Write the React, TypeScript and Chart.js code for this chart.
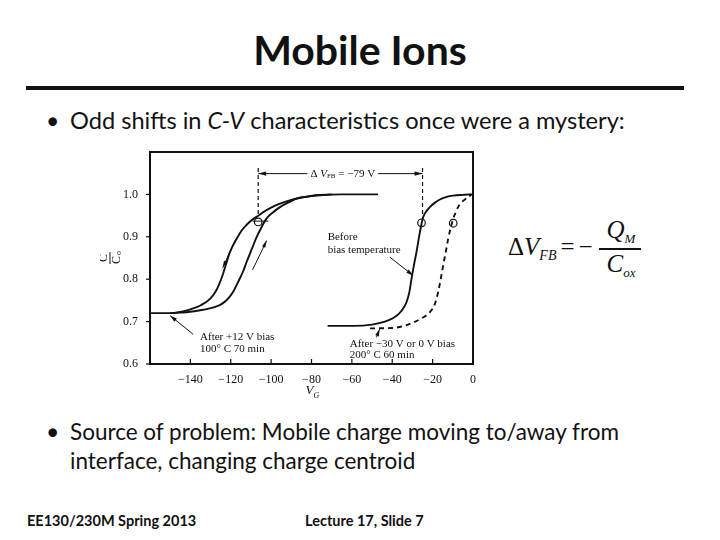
import React, { useEffect, useRef } from "react";
import { Chart, registerables } from "chart.js";

Chart.register(...registerables);

// ---- data ----
const xTicks = [-140, -120, -100, -80, -60, -40, -20, 0];
const yTicks = [0.6, 0.7, 0.8, 0.9, 1.0];

const downV = [-160, -150, -145, -140, -135, -130, -127, -124, -120.4, -117, -114.6, -112, -109.7, -106, -104, -100, -95.6, -90, -85.7, -80, -75.8, -65, -47];
const downC = [0.72, 0.72, 0.723, 0.729, 0.738, 0.755, 0.775, 0.81, 0.864, 0.896, 0.915, 0.929, 0.939, 0.951, 0.958, 0.969, 0.978, 0.987, 0.992, 0.996, 0.998, 1.0, 1.0];

const upV = [-150, -142, -133.6, -128, -124, -121, -118.5, -116, -114, -112.2, -109.5, -107.2, -104.5, -102.3, -99, -95.6, -91, -87.4, -82, -78, -70];
const upC = [0.72, 0.722, 0.728, 0.734, 0.743, 0.756, 0.773, 0.797, 0.817, 0.84, 0.872, 0.899, 0.925, 0.943, 0.958, 0.97, 0.982, 0.99, 0.995, 0.998, 1.0];

const beforeV = [-72, -59, -50, -46, -42, -38, -35.5, -33, -31.5, -30.5, -29.3, -28, -26.3, -24.7, -23, -21.4, -19, -16.4, -13, -9.8, -5, -1.6, 0];
const beforeC = [0.69, 0.69, 0.693, 0.697, 0.703, 0.713, 0.725, 0.745, 0.77, 0.8, 0.832, 0.864, 0.911, 0.946, 0.961, 0.97, 0.98, 0.988, 0.994, 0.997, 0.999, 1.0, 1.0];

const afterV = [-51, -40, -34, -29.6, -25, -21.4, -19, -17.3, -16, -14.8, -13.5, -12.3, -11, -9.8, -8.5, -7.4, -5.5, -3.2, -0.7];
const afterC = [0.684, 0.685, 0.69, 0.698, 0.709, 0.722, 0.74, 0.769, 0.8, 0.832, 0.864, 0.895, 0.922, 0.943, 0.958, 0.97, 0.982, 0.991, 1.0];

const markV = [-106.4, -25.5, -9.8];
const markC = [0.935, 0.933, 0.932];

const deltaLeftV = -106.4;
const deltaRightV = -25;
const deltaLevel = 1.049;
const deltaLabel = "= \u221279 V";

const toPts = (xs: number[], ys: number[]) => xs.map((x, i) => ({ x, y: ys[i] }));

const SERIF = '"Liberation Serif", "DejaVu Serif", serif';

function arrowHead(ctx: CanvasRenderingContext2D, x0: number, y0: number, x1: number, y1: number, size: number, width: number) {
  const a = Math.atan2(y1 - y0, x1 - x0);
  ctx.beginPath();
  ctx.moveTo(x1, y1);
  ctx.lineTo(x1 - size * Math.cos(a) + width * Math.sin(a), y1 - size * Math.sin(a) - width * Math.cos(a));
  ctx.lineTo(x1 - size * Math.cos(a) - width * Math.sin(a), y1 - size * Math.sin(a) + width * Math.cos(a));
  ctx.closePath();
  ctx.fill();
}

const figurePlugin = {
  id: "figure",
  afterDatasetsDraw(chart: any) {
    const { ctx, chartArea: a, scales } = chart;
    const X = (v: number) => scales.x.getPixelForValue(v);
    const Y = (v: number) => scales.y.getPixelForValue(v);
    ctx.save();
    ctx.strokeStyle = "#111";
    ctx.fillStyle = "#111";
    // frame
    ctx.lineWidth = 2;
    ctx.strokeRect(a.left, a.top, a.right - a.left, a.bottom - a.top);
    // x ticks (inside)
    ctx.lineWidth = 1.2;
    xTicks.forEach((v) => {
      ctx.beginPath();
      ctx.moveTo(X(v), a.bottom);
      ctx.lineTo(X(v), a.bottom - 5);
      ctx.stroke();
    });
    // y ticks (outside)
    yTicks.forEach((v) => {
      ctx.beginPath();
      ctx.moveTo(a.left, Y(v));
      ctx.lineTo(a.left - 4, Y(v));
      ctx.stroke();
    });

    // dashed verticals
    ctx.setLineDash([4, 3]);
    ctx.lineWidth = 1.2;
    ctx.beginPath();
    ctx.moveTo(X(deltaLeftV), Y(1.062));
    ctx.lineTo(X(deltaLeftV), Y(0.95));
    ctx.moveTo(X(deltaRightV), Y(1.062));
    ctx.lineTo(X(deltaRightV), Y(0.945));
    ctx.stroke();
    ctx.setLineDash([]);

    // delta dimension line
    const yl = Y(deltaLevel);
    const tx = X(-64.5);
    ctx.textBaseline = "middle";
    ctx.font = `11px ${SERIF}`;
    const deltaText = "\u0394 ";
    const wD = ctx.measureText(deltaText).width;
    ctx.font = `italic 11px ${SERIF}`;
    const wV = ctx.measureText("V").width;
    ctx.font = `7px ${SERIF}`;
    const wS = ctx.measureText("FB").width;
    ctx.font = `11px ${SERIF}`;
    const wR = ctx.measureText(" " + deltaLabel).width;
    const total = wD + wV + wS + wR;
    let cx = tx - total / 2;
    ctx.lineWidth = 1;
    ctx.beginPath();
    ctx.moveTo(X(deltaLeftV), yl);
    ctx.lineTo(cx - 3, yl);
    ctx.moveTo(cx + total + 3, yl);
    ctx.lineTo(X(deltaRightV), yl);
    ctx.stroke();
    arrowHead(ctx, X(deltaLeftV) + 10, yl, X(deltaLeftV), yl, 8, 2.2);
    arrowHead(ctx, X(deltaRightV) - 10, yl, X(deltaRightV), yl, 8, 2.2);
    ctx.textAlign = "left";
    ctx.fillText(deltaText, cx, yl);
    cx += wD;
    ctx.font = `italic 11px ${SERIF}`;
    ctx.fillText("V", cx, yl);
    cx += wV;
    ctx.font = `7px ${SERIF}`;
    ctx.fillText("FB", cx, yl + 3);
    cx += wS;
    ctx.font = `11px ${SERIF}`;
    ctx.fillText(" " + deltaLabel, cx, yl);

    // small horizontal segment at the left marker
    ctx.beginPath();
    ctx.moveTo(X(-109.2), Y(0.937));
    ctx.lineTo(X(-101.4), Y(0.937));
    ctx.stroke();

    // direction arrows on hysteresis loop
    ctx.lineWidth = 1;
    const arrows = [
      [-117.4, 0.895, -124, 0.827],
      [-109.2, 0.822, -102.2, 0.891],
    ];
    arrows.forEach(([v0, c0, v1, c1]) => {
      ctx.beginPath();
      ctx.moveTo(X(v0), Y(c0));
      ctx.lineTo(X(v1), Y(c1));
      ctx.stroke();
      arrowHead(ctx, X(v0), Y(c0), X(v1), Y(c1), 7, 1.8);
    });

    // labels with leader arrows
    ctx.font = `11px ${SERIF}`;
    ctx.textAlign = "left";
    ctx.textBaseline = "middle";
    const labels: [string, number, number][] = [
      ["Before", -72, 0.9],
      ["bias temperature", -72, 0.869],
      ["After +12 V bias", -135.2, 0.663],
      ["100\u00b0 C 70 min", -135.2, 0.636],
      ["After \u221230 V or 0 V bias", -61, 0.647],
      ["200\u00b0 C 60 min", -61, 0.62],
    ];
    labels.forEach(([t, v, c]) => ctx.fillText(t, X(v), Y(c)));
    const leaders = [
      [-41.2, 0.852, -29.7, 0.809],
      [-138.6, 0.67, -150, 0.714],
      [-47.8, 0.663, -46.3, 0.682],
    ];
    leaders.forEach(([v0, c0, v1, c1]) => {
      ctx.beginPath();
      ctx.moveTo(X(v0), Y(c0));
      ctx.lineTo(X(v1), Y(c1));
      ctx.stroke();
      arrowHead(ctx, X(v0), Y(c0), X(v1), Y(c1), 7, 2);
    });

    // x title V_G
    const gx = X(-80);
    const gy = a.bottom + 27;
    ctx.font = `italic 13px ${SERIF}`;
    ctx.textAlign = "center";
    ctx.fillText("V", gx - 2, gy);
    ctx.font = `italic 8px ${SERIF}`;
    ctx.fillText("G", gx + 5, gy + 5);

    // y title C / C0 (rotated fraction)
    ctx.save();
    ctx.translate(a.left - 40, Y(0.85));
    ctx.rotate(-Math.PI / 2);
    ctx.font = `12px ${SERIF}`;
    ctx.textAlign = "center";
    ctx.fillText("C", 0, -6);
    ctx.beginPath();
    ctx.moveTo(-6, 0);
    ctx.lineTo(6, 0);
    ctx.stroke();
    ctx.fillText("C", -2, 7);
    ctx.font = `8px ${SERIF}`;
    ctx.fillText("o", 5, 9);
    ctx.restore();

    ctx.restore();
  },
};

function CVChart() {
  const ref = useRef<HTMLCanvasElement | null>(null);
  useEffect(() => {
    if (!ref.current) return;
    const lineStyle = {
      showLine: true,
      borderColor: "#111",
      borderWidth: 1.9,
      pointRadius: 0,
      tension: 0.4,
      cubicInterpolationMode: "monotone" as const,
    };
    const chart = new Chart(ref.current, {
      type: "scatter",
      data: {
        datasets: [
          { label: "down", data: toPts(downV, downC), ...lineStyle },
          { label: "up", data: toPts(upV, upC), ...lineStyle },
          { label: "before", data: toPts(beforeV, beforeC), ...lineStyle },
          { label: "after", data: toPts(afterV, afterC), ...lineStyle, borderDash: [5, 4] },
          {
            label: "marks",
            data: toPts(markV, markC),
            showLine: false,
            pointRadius: 3.8,
            pointBackgroundColor: "#fff",
            pointBorderColor: "#111",
            pointBorderWidth: 1.2,
          },
        ],
      },
      options: {
        animation: false,
        responsive: false,
        layout: { padding: { top: 12, right: 12, left: 0, bottom: 0 } },
        plugins: { legend: { display: false }, tooltip: { enabled: false } },
        scales: {
          x: {
            type: "linear",
            min: -160,
            max: 0,
            grid: { display: false },
            border: { display: false },
            ticks: {
              stepSize: 20,
              padding: 1,
              color: "#111",
              font: { family: SERIF, size: 12 },
              callback: (v: any) => (v === -160 ? "" : v < 0 ? "\u2212" + Math.abs(v) : String(v)),
            },
            afterFit: (s: any) => {
              s.height = 41;
            },
          },
          y: {
            min: 0.6,
            max: 1.1,
            grid: { display: false },
            border: { display: false },
            ticks: {
              stepSize: 0.1,
              padding: 4,
              color: "#111",
              font: { family: SERIF, size: 12 },
              callback: (v: any) => (v > 1.05 ? "" : Number(v).toFixed(1)),
            },
            afterFit: (s: any) => {
              s.width = 50;
            },
          },
        },
      },
      plugins: [figurePlugin],
    });
    return () => chart.destroy();
  }, []);
  return (
    <canvas
      ref={ref}
      width={385}
      height={265}
      style={{ position: "absolute", left: 100, top: 140, width: 385, height: 265 }}
    />
  );
}

const SANS = 'Lato, "Noto Sans", sans-serif';

export default function App() {
  const bullet: React.CSSProperties = { position: "absolute", left: 46, fontFamily: SANS, fontSize: 23, color: "#111" };
  const text: React.CSSProperties = { position: "absolute", left: 70, fontFamily: SANS, color: "#111", whiteSpace: "nowrap", lineHeight: "29px" };
  const formula: React.CSSProperties = { position: "absolute", fontFamily: SERIF, color: "#111", whiteSpace: "nowrap" };
  return (
    <div style={{ position: "absolute", left: 0, top: 0, width: 720, height: 540, background: "#fff", overflow: "hidden" }}>
      <div style={{ position: "absolute", left: 0, width: 720, top: 25, textAlign: "center", fontFamily: SANS, fontWeight: 700, fontSize: 41, color: "#111" }}>
        Mobile Ions
      </div>
      <div style={{ position: "absolute", left: 26, top: 86, width: 658, height: 4, background: "#111" }} />
      <div style={{ ...bullet, top: 106 }}>•</div>
      <div style={{ ...text, top: 106, fontSize: 23.6 }}>
        Odd shifts in <i>C-V</i> characteristics once were a mystery:
      </div>
      <div style={{ ...bullet, top: 417 }}>•</div>
      <div style={{ ...text, top: 417, fontSize: 22.5 }}>
        Source of problem: Mobile charge moving to/away from
        <br />
        interface, changing charge centroid
      </div>
      <div style={{ position: "absolute", left: 27, top: 512, fontFamily: SANS, fontSize: 14.5, fontWeight: 700, color: "#111" }}>
        EE130/230M Spring 2013
      </div>
      <div style={{ position: "absolute", left: 305, top: 512, fontFamily: SANS, fontSize: 14.5, fontWeight: 700, color: "#111" }}>
        Lecture 17, Slide 7
      </div>

      {/* formula */}
      <div style={{ ...formula, left: 508, top: 233, fontSize: 25 }}>
        Δ<i>V</i>
        <sub style={{ fontSize: 14, fontStyle: "italic", verticalAlign: "-5px" }}>FB</sub>
        <span style={{ margin: "0 4px" }}>=</span>−
      </div>
      <div style={{ ...formula, left: 600, top: 216, fontSize: 25, width: 42, textAlign: "center" }}>
        <i>Q</i>
        <sub style={{ fontSize: 13, fontStyle: "italic", verticalAlign: "-5px" }}>M</sub>
      </div>
      <div style={{ position: "absolute", left: 599, top: 248, width: 42, height: 1.5, background: "#111" }} />
      <div style={{ ...formula, left: 600, top: 250, fontSize: 25, width: 42, textAlign: "center" }}>
        <i>C</i>
        <sub style={{ fontSize: 13, fontStyle: "italic", verticalAlign: "-5px" }}>ox</sub>
      </div>

      <CVChart />
    </div>
  );
}
